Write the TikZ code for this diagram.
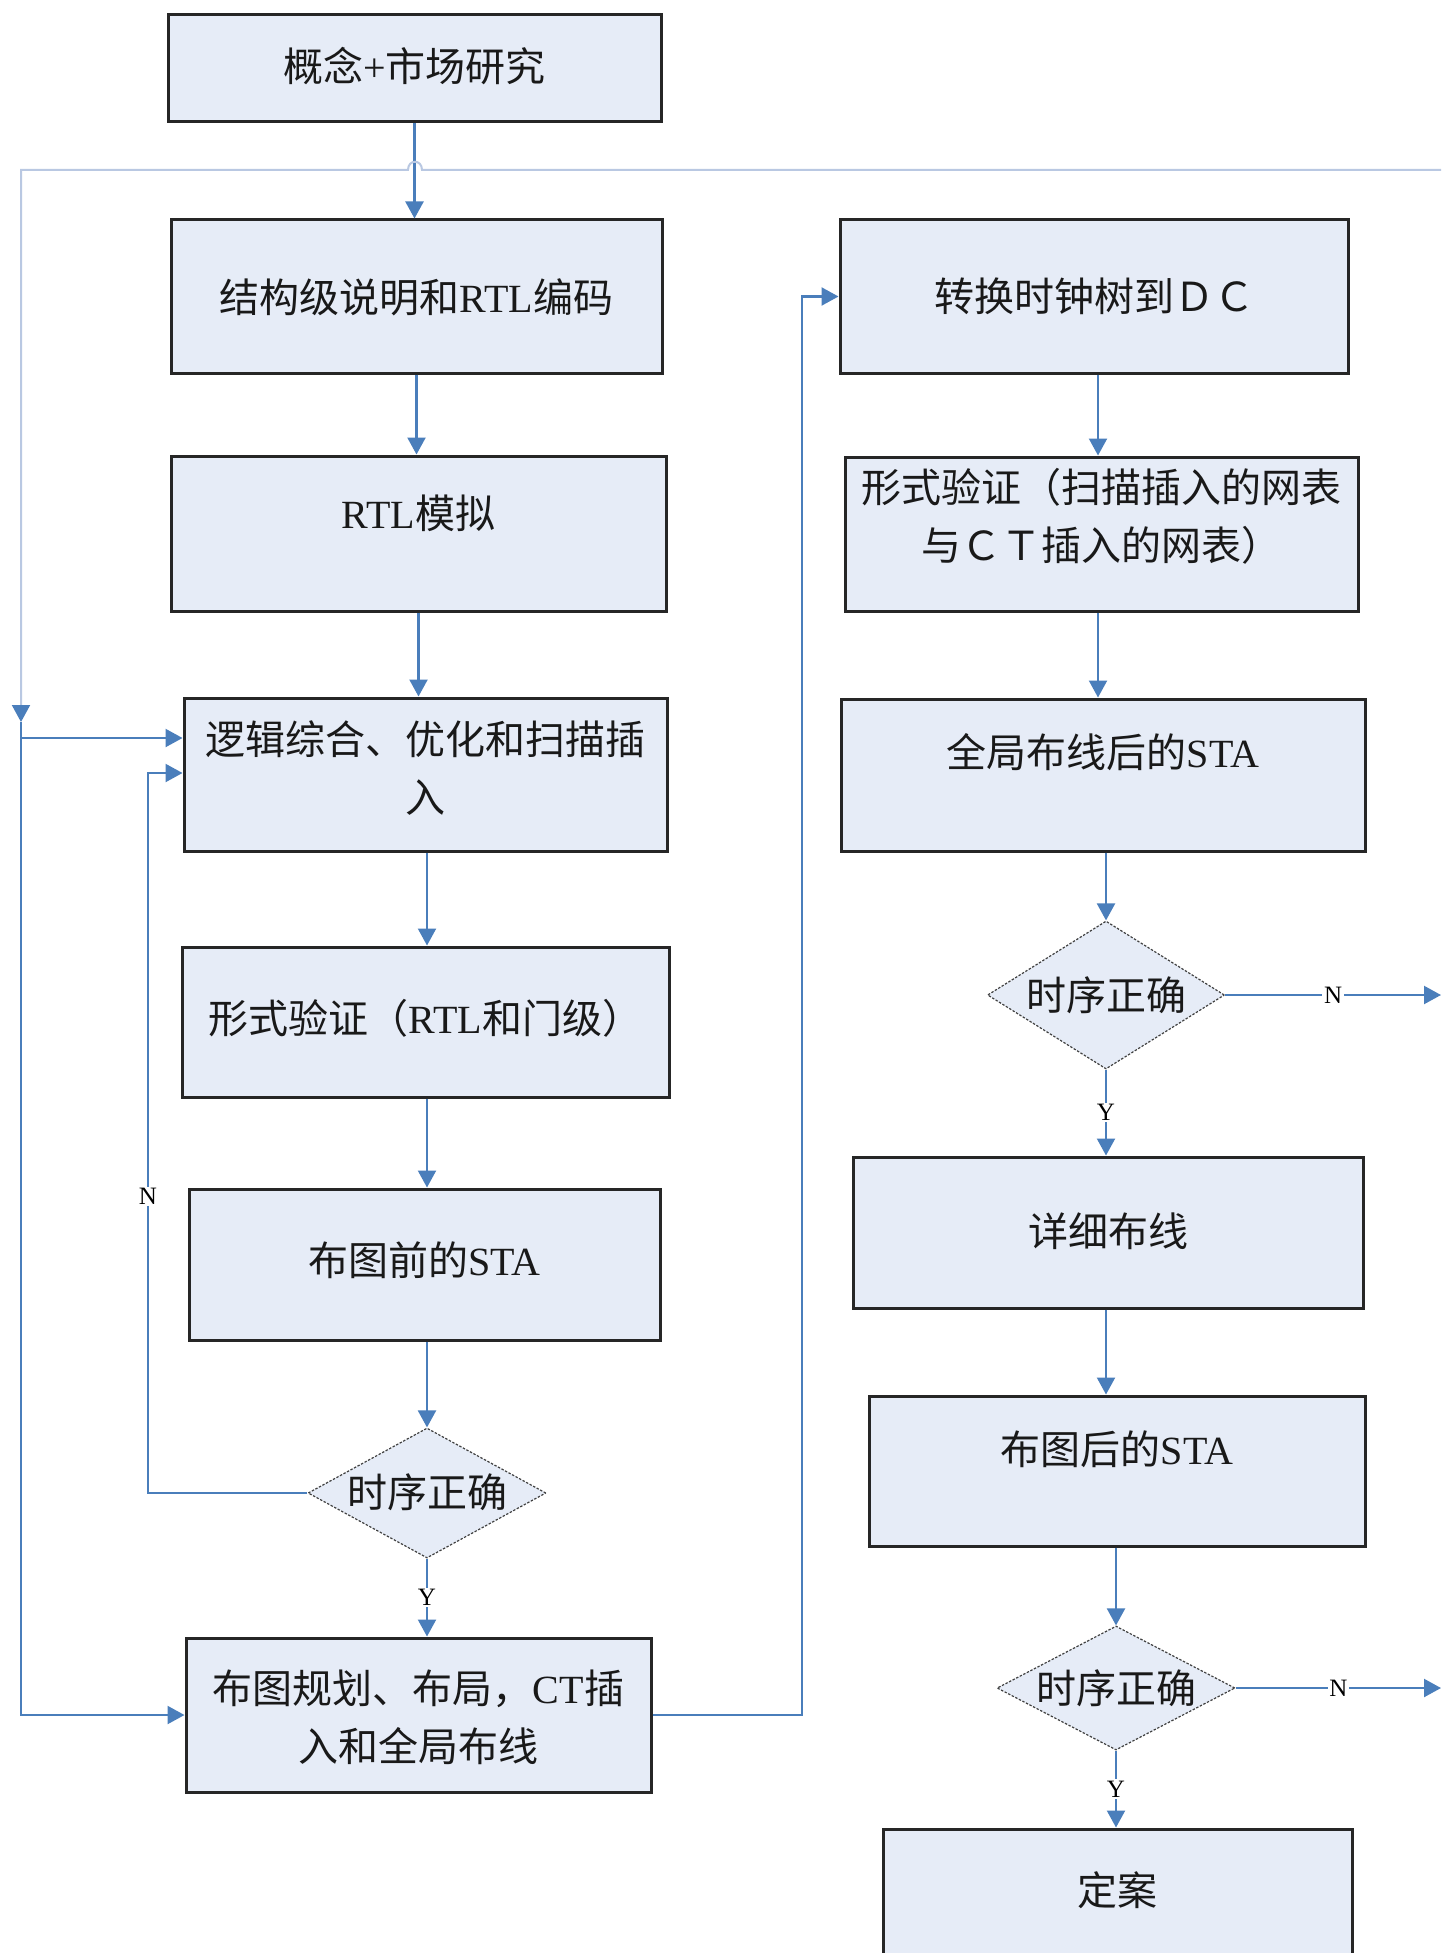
\documentclass[tikz,border=0pt]{standalone}
\usepackage{fontspec}
\setmainfont{Liberation Serif}
\newfontfamily\cjk{Noto Sans CJK SC}
\usetikzlibrary{arrows.meta,shapes.geometric}
\definecolor{boxfill}{RGB}{230,236,247}
\definecolor{lineblue}{RGB}{74,126,187}
\definecolor{lightline}{RGB}{185,200,226}
\begin{document}
\begin{tikzpicture}[x=0.5pt,y=-0.5pt,
  box/.style={draw=black!85, line width=1.5pt, fill=boxfill, rectangle, inner sep=0pt},
  dec/.style={diamond, draw=black!75, line width=0.6pt, dash pattern=on 1.2pt off 0.8pt, fill=boxfill, inner sep=0pt},
  txt/.style={font=\fontsize{20pt}{29pt}\selectfont, align=center, inner sep=0pt, text=black!90},
  conn/.style={draw=lineblue, line width=1.1pt},
  arr/.style={conn, -{Triangle[length=8.5pt,width=9pt]}},
  yn/.style={font=\fontsize{12.5pt}{14pt}\selectfont, fill=white, inner sep=0.8pt, text=black}
]
\fill[white] (0,0) rectangle (1441,1953);
\useasboundingbox (0,0) rectangle (1441,1953);
\clip (0,0) rectangle (1441,1953);

% ---------- left column ----------
\node[box, minimum width=246.5pt, minimum height=53.5pt] (b1) at (414.5,68.5) {};
\node[txt] (t1) at (414.5,66) {{\cjk 概念}+{\cjk 市场研究}};

\node[box, minimum width=245.5pt, minimum height=76.5pt] (b2) at (416.5,296.5) {};
\node[txt] (t2) at (416.5,297) {{\cjk 结构级说明和}RTL{\cjk 编码}};

\node[box, minimum width=247.5pt, minimum height=77.5pt] (b3) at (418.5,533.5) {};
\node[txt] (t3) at (418.5,513) {RTL{\cjk 模拟}};

\node[box, minimum width=241.5pt, minimum height=76.5pt] (b4) at (425.5,774.5) {};
\node[txt] (t4) at (425.5,768.5) {{\cjk 逻辑综合、优化和扫描插}\\{\cjk 入}};

\node[box, minimum width=243.5pt, minimum height=75pt] (b5) at (425.5,1022) {};
\node[txt] (t5) at (425.5,1018) {{\cjk 形式验证（}RTL{\cjk 和门级）}};

\node[box, minimum width=235.5pt, minimum height=75.5pt] (b6) at (424.5,1264.5) {};
\node[txt] (t6) at (424.5,1260) {{\cjk 布图前的}STA};

\node[dec, minimum width=119pt, minimum height=65pt] (d1) at (427,1493) {};
\node[txt] (td1) at (427,1492) {{\cjk 时序正确}};

\node[box, minimum width=232.5pt, minimum height=77pt] (b7) at (418.5,1715) {};
\node[txt] (t7) at (418.5,1717) {{\cjk 布图规划、布局，}CT{\cjk 插}\\{\cjk 入和全局布线}};

% ---------- right column ----------
\node[box, minimum width=254pt, minimum height=76.5pt] (b8) at (1094,296.5) {};
\node[txt] (t8) at (1094,296.5) {{\cjk 转换时钟树到ＤＣ}};

\node[box, minimum width=256.5pt, minimum height=77pt] (b9) at (1101.5,534) {};
\node[txt] (t9) at (1101.5,516) {{\cjk 形式验证（扫描插入的网表}\\{\cjk 与ＣＴ插入的网表）}};

\node[box, minimum width=262pt, minimum height=76pt] (b10) at (1103,775) {};
\node[txt] (t10) at (1103,752) {{\cjk 全局布线后的}STA};

\node[dec, minimum width=118.5pt, minimum height=74pt] (d2) at (1106,995) {};
\node[txt] (td2) at (1106,995) {{\cjk 时序正确}};

\node[box, minimum width=255pt, minimum height=75.5pt] (b11) at (1108,1232.5) {};
\node[txt] (t11) at (1108,1231) {{\cjk 详细布线}};

\node[box, minimum width=248pt, minimum height=75pt] (b12) at (1117,1471) {};
\node[txt] (t12) at (1117,1449) {{\cjk 布图后的}STA};

\node[dec, minimum width=119pt, minimum height=62pt] (d3) at (1116,1688) {};
\node[txt] (td3) at (1116,1688) {{\cjk 时序正确}};

\node[box, minimum width=234.5pt, minimum height=80pt] (b13) at (1117.5,1909) {};
\node[txt] (t13) at (1117.5,1890) {{\cjk 定案}};

% ---------- helper coordinates ----------
\coordinate (topR) at (1441,170);
\coordinate (hopR) at (422,170);
\coordinate (hopL) at (408,170);
\coordinate (topL) at (21,170);
\coordinate (junc) at (21,722);
\coordinate (j2) at (21,738);
\coordinate (nl) at (148,773);
\coordinate (rv) at (802,0);
\coordinate (edge) at (1441,0);

% ---------- connectors: left column ----------
\draw[arr] (b1.south) -- (b1.south |- b2.north);
\draw[arr] (b2.south) -- (b2.south |- b3.north);
\draw[arr] (b3.south) -- (b3.south |- b4.north);
\draw[arr] (d1.north |- b4.south) -- (d1.north |- b5.north);
\draw[arr] (d1.north |- b5.south) -- (d1.north |- b6.north);
\draw[arr] (d1.north |- b6.south) -- (d1.north);
\draw[arr] (d1.south) -- (d1.south |- b7.north) node[yn, midway] {Y};
\draw[arr] (d1.west) -| node[yn, pos=0.706] {N} (nl) -- (nl -| b4.west);

% big loop from the right edge
\draw[lightline, line width=1pt, -{Triangle[length=8.5pt,width=9pt,color=lineblue]}]
  (topR) -- (hopR) .. controls (422,159) and (408,159) .. (hopL) -- (topL) -- (junc);
\draw[arr] (junc) |- (b7.west);
\draw[arr] (j2) -- (j2 -| b4.west);

% to the right column
\draw[arr] (b7.east) -- (b7.east -| rv) -- (rv |- b8.west) -- (b8.west);

% ---------- connectors: right column ----------
\draw[arr] ([xshift=2pt]b8.south) -- ([xshift=2pt]b8.south |- b9.north);
\draw[arr] ([xshift=-1.75pt]b9.south) -- ([xshift=-1.75pt]b9.south |- b10.north);
\draw[arr] (d2.north |- b10.south) -- (d2.north);
\draw[arr] (d2.south) -- (d2.south |- b11.north) node[yn, midway] {Y};
\draw[arr] (d2.east) -- (d2.east -| edge) node[yn, midway] {N};
\draw[arr] (d2.south |- b11.south) -- (d2.south |- b12.north);
\draw[arr] (d3.north |- b12.south) -- (d3.north);
\draw[arr] (d3.south) -- (d3.south |- b13.north) node[yn, midway] {Y};
\draw[arr] (d3.east) -- (d3.east -| edge) node[yn, midway] {N};
\end{tikzpicture}
\end{document}
